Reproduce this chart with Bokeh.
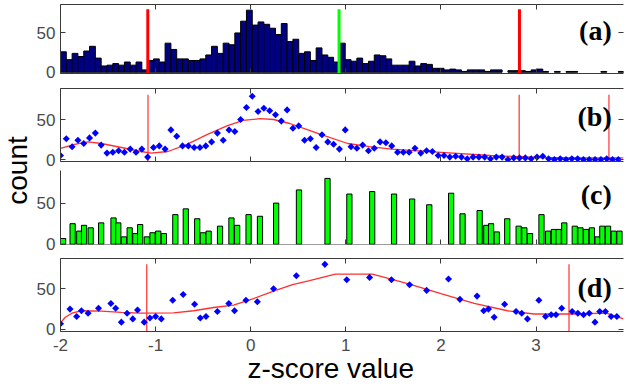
import math
from bokeh.plotting import figure
from bokeh.models import (Range1d, LinearAxis, FixedTicker, Label, Title,
                          CustomLabelingPolicy)
from bokeh.layouts import column, row
from bokeh.core.properties import value
from bokeh.embed import file_html
from bokeh.resources import INLINE

# ---------------- data ----------------
BIN_W = 0.0611
X_START = -2.0

# panel (a): histogram counts (bins of width BIN_W starting at -2)
a_counts = [26, 16, 24, 20, 27, 33, 18, 8, 9, 11, 9, 13, 9, 13, 3,
            15, 17, 13, 37, 29, 17, 17, 15, 15, 17, 22, 33, 24, 37, 35, 50, 65, 79,
            60, 64, 61, 56, 48, 62, 39, 42, 24, 26, 15, 31, 22, 19, 13,
            37, 16, 14, 18, 11, 14, 22, 21, 17, 9, 9, 9, 14, 8, 11, 10, 5, 5,
            3, 4, 3, 1, 3, 3, 3, 1, 3, 3, 0, 2, 2, 2, 1, 3, 4, 1, 0, 1, 0, 1, 1,
            0, 0, 0, 0, 1, 0, 0, 1]
a_lines_x = [-1.082, 0.929, 2.826]
a_lines_color = ["#ff0000", "#00ff00", "#ff0000"]

# panel (b): points (histogram values at bin edges) and fitted curve
b_first = 5
b_curve_x = [-2.0, -1.85, -1.71, -1.57, -1.36, -1.15, -1.05, -0.87, -0.67, -0.46,
             -0.25, -0.08, 0.10, 0.24, 0.41, 0.58, 0.72, 1.02, 1.25, 1.48, 2.0,
             2.52, 3.04, 3.5, 3.92]
b_curve_y = [14, 19, 22, 20, 15, 10, 8, 10, 19, 31, 42, 49, 51, 50, 45, 38, 32,
             20, 16, 13, 9, 5, 2.5, 2, 2]
b_lines_x = [-1.08, 2.823, 3.767]

# panel (c)/(d): non-uniform histogram (left edges, counts)
c_x = [-2.00, -1.90, -1.83, -1.78, -1.71, -1.60, -1.47, -1.42, -1.36, -1.30,
       -1.24, -1.19, -1.12, -1.06, -1.00, -0.94, -0.82, -0.71, -0.59, -0.53,
       -0.47, -0.35, -0.23, -0.17, -0.05, 0.07, 0.24, 0.48, 0.78, 1.01,
       1.25, 1.48, 1.67, 1.85, 2.08, 2.20, 2.38, 2.45, 2.50, 2.56,
       2.67, 2.79, 2.85, 2.91, 3.03, 3.10, 3.16, 3.21, 3.27, 3.38,
       3.44, 3.50, 3.56, 3.62, 3.67, 3.73, 3.79, 3.85]
c_counts = [7, 25, 16, 23, 20, 26, 32, 26, 9, 20,
            13, 24, 9, 14, 16, 13, 36, 43, 31, 14,
            16, 22, 32, 23, 36, 34, 50, 66, 80, 61,
            64, 61, 55, 48, 62, 37, 41, 23, 25, 15,
            31, 22, 20, 13, 36, 16, 18, 18, 26, 22,
            20, 18, 20, 9, 22, 22, 16, 16]
C_W = 0.055
d_curve_x = [-2.0, -1.95, -1.88, -1.78, -1.57, -1.36, -1.15, -0.81, -0.60, -0.39,
             -0.18, 0.03, 0.24, 0.44, 0.62, 0.89, 1.28, 1.66, 2.00, 2.35, 2.70,
             2.98, 3.39, 3.74, 3.92]
d_curve_y = [8, 15, 20, 23, 22.5, 21, 20, 20.5, 23, 27, 30, 38, 47, 55, 60, 68,
             68, 56, 44, 32, 23, 19, 19, 20, 13]
d_lines_x = [-1.093, 3.347]

x_ticks = [-2, -1, 0, 1, 2, 3]
x_tick_labels = ["-2", "-1", "0", "1", "2", "3"]
y_ticks = [0, 50]
panel_names = ["(a)", "(b)", "(c)", "(d)"]
x_title = "z-score value"
y_title = "count"

# ---------------- styling helpers ----------------
LEFT_W = 33
BORDER_L = 25
W = 594
XR = Range1d(-2.0, 3.92)
FRAME_C = "#3a3a3a"
LABEL_C = "#4a4a4a"
TICK_FONT = "17px"
LABEL_X = 3.796


def style_axis(ax, ticks, show_labels, show_line):
    ax.ticker = FixedTicker(ticks=ticks)
    ax.major_tick_in = 5
    ax.major_tick_out = 0
    ax.minor_tick_in = 0
    ax.minor_tick_out = 0
    ax.minor_tick_line_color = None
    ax.axis_line_color = FRAME_C if show_line else None
    ax.major_tick_line_color = FRAME_C
    if show_labels:
        ax.major_label_text_font = "Liberation Sans"
        ax.major_label_text_font_size = TICK_FONT
        ax.major_label_text_color = LABEL_C
    else:
        ax.major_label_policy = CustomLabelingPolicy(code="return []")
        ax.major_label_text_font_size = "1px"
        ax.major_label_standoff = 0


def make_fig(h, top, bottom, yr, show_x_labels=False, boxed=True):
    p = figure(width=W, height=h, x_range=XR, y_range=Range1d(*yr),
               output_backend="svg", toolbar_location=None,
               min_border_left=BORDER_L, min_border_right=0,
               min_border_top=top, min_border_bottom=bottom)
    p.xgrid.grid_line_color = None
    p.ygrid.grid_line_color = None
    p.outline_line_color = None
    p.background_fill_color = "white"
    p.border_fill_color = "white"
    style_axis(p.xaxis[0], x_ticks, show_x_labels, True)
    if show_x_labels:
        p.xaxis[0].major_label_standoff = 7
        p.xaxis[0].major_label_overrides = dict(zip(x_ticks, x_tick_labels))
    else:
        p.xaxis[0].major_label_standoff = 0
    style_axis(p.yaxis[0], y_ticks, True, True)
    p.yaxis[0].major_label_standoff = 5
    if boxed:
        top_ax = LinearAxis()
        style_axis(top_ax, x_ticks, False, True)
        p.add_layout(top_ax, "above")
        right_ax = LinearAxis()
        style_axis(right_ax, y_ticks, False, False)
        p.add_layout(right_ax, "right")
    return p


def panel_label(p, text, y):
    p.add_layout(Label(x=LABEL_X, y=y, text=text, text_align="right",
                       text_baseline="alphabetic", text_font="Liberation Serif",
                       text_font_style="bold", text_font_size="28px",
                       text_color="black"))


# ---------------- panel (a) ----------------
fa = make_fig(82, 1, 9, (-1.6, 86.2))
a_left = [X_START + i * BIN_W for i in range(len(a_counts))]
nz = [i for i, c in enumerate(a_counts) if c > 0]
fa.vbar(x=[a_left[i] + BIN_W / 2 for i in nz], top=[a_counts[i] for i in nz],
        bottom=0, width=BIN_W, fill_color="#000080", line_color="#000000",
        line_width=1)
fa.segment(x0=a_lines_x, y0=[-3] * 3, x1=a_lines_x, y1=[80] * 3,
           line_color=a_lines_color, line_width=3)
panel_label(fa, panel_names[0], 52.7)

# ---------------- panel (b) ----------------
fb = make_fig(86, 6, 7, (-2.5, 88.75))
b_x = [X_START + i * BIN_W for i in range(len(a_counts))]
b_vals = [b_first] + a_counts[:-1]
fb.line(b_curve_x, b_curve_y, line_color="#ff3030", line_width=1.3)
fb.segment(x0=b_lines_x, y0=[-3] * 3, x1=b_lines_x, y1=[81] * 3,
           line_color="#ff3030", line_width=1.2)
fb.scatter(b_x, b_vals, marker="square", angle=math.pi / 4, size=5,
           fill_color="#0000ff", line_color=None)
panel_label(fb, panel_names[1], 53.7)

# ---------------- panel (c) ----------------
fc = make_fig(85, 2, 9, (-0.3, 89.6), boxed=False)
fc.xaxis[0].level = "underlay"
fc.vbar(x=[x + C_W / 2 for x in c_x], top=c_counts, bottom=0, width=C_W,
        fill_color="#00ff00", line_color="#000000", line_width=1)
panel_label(fc, panel_names[2], 60.5)

# ---------------- panel (d) ----------------
fd = make_fig(134, 5, 56, (-2.5, 87.2), show_x_labels=True)
fd.line(d_curve_x, d_curve_y, line_color="#ff3030", line_width=1.3)
fd.segment(x0=d_lines_x, y0=[-3] * 2, x1=d_lines_x, y1=[80] * 2,
           line_color="#ff3030", line_width=1.2)
fd.scatter(c_x, c_counts, marker="square", angle=math.pi / 4, size=5,
           fill_color="#0000ff", line_color=None)
panel_label(fd, panel_names[3], 51.6)
fd.add_layout(Title(text=x_title, align="left", offset=187, standoff=-6,
                    text_font="Liberation Sans", text_font_style="normal",
                    text_font_size="28px", text_color="black"), "below")

# ---------------- y title column ----------------
fl = figure(width=LEFT_W, height=387, x_range=Range1d(0, 1),
            y_range=Range1d(0, 1), output_backend="svg", toolbar_location=None,
            x_axis_type=None, y_axis_type=None, min_border_left=0,
            min_border_right=0, min_border_top=0, min_border_bottom=0)
fl.xgrid.grid_line_color = None
fl.ygrid.grid_line_color = None
fl.outline_line_color = None
fl.text(x=[0.515], y=[0.5607], text=[y_title], angle=math.pi / 2,
        text_align="center", text_baseline="middle",
        text_font=value("Liberation Sans"), text_font_size="28px",
        text_color="black")

layout = row(fl, column(fa, fb, fc, fd, spacing=0), spacing=0)
open("out.html", "w").write(file_html(layout, INLINE))
